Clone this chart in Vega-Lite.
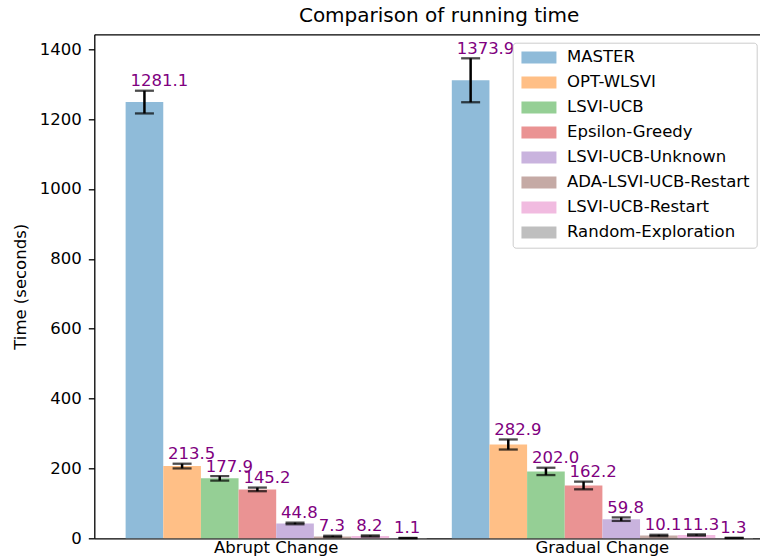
{
  "$schema": "https://vega.github.io/schema/vega-lite/v6.json",
  "width": 665.7,
  "height": 504,
  "autosize": "none",
  "padding": {"left": 94.3, "top": 34.3, "right": 0, "bottom": 19.7},
  "title": {
    "text": "Comparison of running time",
    "fontSize": 20,
    "fontWeight": "normal",
    "color": "black",
    "anchor": "middle",
    "frame": "group",
    "baseline": "bottom",
    "offset": 9,
    "dx": 12,
    "dy": 21
  },
  "data": {
    "values": [
      {"group": "Abrupt Change", "method": "MASTER", "mean": 1248.6, "lo": 1216.1, "hi": 1281.1},
      {"group": "Abrupt Change", "method": "OPT-WLSVI", "mean": 206.8, "lo": 200.1, "hi": 213.5},
      {"group": "Abrupt Change", "method": "LSVI-UCB", "mean": 171.6, "lo": 165.3, "hi": 177.9},
      {"group": "Abrupt Change", "method": "Epsilon-Greedy", "mean": 140.0, "lo": 134.8, "hi": 145.2},
      {"group": "Abrupt Change", "method": "LSVI-UCB-Unknown", "mean": 42.5, "lo": 40.2, "hi": 44.8},
      {"group": "Abrupt Change", "method": "ADA-LSVI-UCB-Restart", "mean": 5.5, "lo": 3.7, "hi": 7.3},
      {"group": "Abrupt Change", "method": "LSVI-UCB-Restart", "mean": 6.5, "lo": 4.8, "hi": 8.2},
      {"group": "Abrupt Change", "method": "Random-Exploration", "mean": 0.8, "lo": 0.5, "hi": 1.1},
      {"group": "Gradual Change", "method": "MASTER", "mean": 1311.0, "lo": 1248.1, "hi": 1373.9},
      {"group": "Gradual Change", "method": "OPT-WLSVI", "mean": 268.5, "lo": 254.1, "hi": 282.9},
      {"group": "Gradual Change", "method": "LSVI-UCB", "mean": 191.5, "lo": 181.0, "hi": 202.0},
      {"group": "Gradual Change", "method": "Epsilon-Greedy", "mean": 151.2, "lo": 140.2, "hi": 162.2},
      {"group": "Gradual Change", "method": "LSVI-UCB-Unknown", "mean": 54.8, "lo": 49.8, "hi": 59.8},
      {"group": "Gradual Change", "method": "ADA-LSVI-UCB-Restart", "mean": 8.0, "lo": 5.9, "hi": 10.1},
      {"group": "Gradual Change", "method": "LSVI-UCB-Restart", "mean": 9.5, "lo": 7.7, "hi": 11.3},
      {"group": "Gradual Change", "method": "Random-Exploration", "mean": 1.0, "lo": 0.7, "hi": 1.3}
    ]
  },
  "encoding": {
    "x": {
      "field": "group",
      "type": "nominal",
      "scale": {"range": [0, 690], "paddingInner": 0.0767, "paddingOuter": 0.096}
    },
    "xOffset": {
      "field": "method",
      "type": "nominal",
      "sort": ["MASTER", "OPT-WLSVI", "LSVI-UCB", "Epsilon-Greedy", "LSVI-UCB-Unknown", "ADA-LSVI-UCB-Restart", "LSVI-UCB-Restart", "Random-Exploration"],
      "scale": {"paddingInner": 0, "paddingOuter": 0}
    }
  },
  "layer": [
    {
      "mark": {"type": "bar"},
      "encoding": {
        "x": {
          "field": "group",
          "type": "nominal",
          "scale": {"range": [0, 690], "paddingInner": 0.0767, "paddingOuter": 0.096},
          "axis": {"orient": "bottom", "title": null, "labelAngle": 0, "ticks": false, "labelPadding": 1, "labelFontSize": 16.5, "labelColor": "black", "domainColor": "black", "domainWidth": 1.3}
        },
        "y": {
          "field": "mean",
          "type": "quantitative",
          "scale": {"domain": [0, 1442.6], "nice": false},
          "axis": {
            "title": "Time (seconds)",
            "values": [0, 200, 400, 600, 800, 1000, 1200, 1400],
            "format": "d",
            "grid": false,
            "titleFontSize": 16.5,
            "titleFontWeight": "normal",
            "titleColor": "black",
            "titlePadding": 10.5,
            "labelFontSize": 16.5,
            "labelColor": "black",
            "labelPadding": 7,
            "tickSize": 6,
            "tickColor": "black",
            "tickWidth": 1.3,
            "domainColor": "black",
            "domainWidth": 1.3
          }
        },
        "color": {
          "field": "method",
          "type": "nominal",
          "sort": ["MASTER", "OPT-WLSVI", "LSVI-UCB", "Epsilon-Greedy", "LSVI-UCB-Unknown", "ADA-LSVI-UCB-Restart", "LSVI-UCB-Restart", "Random-Exploration"],
          "scale": {
            "domain": ["MASTER", "OPT-WLSVI", "LSVI-UCB", "Epsilon-Greedy", "LSVI-UCB-Unknown", "ADA-LSVI-UCB-Restart", "LSVI-UCB-Restart", "Random-Exploration"],
            "range": ["#8fbbd9", "#ffbf86", "#95cf95", "#ea9393", "#c9b3de", "#c5aaa5", "#f1bbe0", "#bfbfbf"]
          },
          "legend": {
            "orient": "none",
            "legendX": 418.4,
            "legendY": 8.4,
            "title": null,
            "symbolType": "M-1,-1H4.833V1H-1Z",
            "symbolSize": 144,
            "symbolStrokeWidth": 0,
            "labelFontSize": 16.5,
            "labelColor": "black",
            "labelLimit": 400,
            "labelOffset": 31.3,
            "rowPadding": 8.0,
            "padding": 6.5,
            "strokeColor": "#cccccc",
            "fillColor": "white",
            "cornerRadius": 3
          }
        }
      }
    },
    {
      "mark": {"type": "rule", "color": "black", "strokeWidth": 2.5},
      "encoding": {
        "x": {"field": "group", "type": "nominal", "axis": null},
        "y": {"field": "lo", "type": "quantitative"},
        "y2": {"field": "hi"}
      }
    },
    {
      "mark": {"type": "tick", "color": "black", "thickness": 2.3, "size": 19, "orient": "horizontal"},
      "encoding": {
        "x": {"field": "group", "type": "nominal", "axis": null},
        "y": {"field": "lo", "type": "quantitative"}
      }
    },
    {
      "mark": {"type": "tick", "color": "black", "thickness": 2.3, "size": 19, "orient": "horizontal"},
      "encoding": {
        "x": {"field": "group", "type": "nominal", "axis": null},
        "y": {"field": "hi", "type": "quantitative"}
      }
    },
    {
      "mark": {"type": "text", "color": "#800080", "fontSize": 16.5, "align": "left", "baseline": "alphabetic", "dx": -14, "dy": -4.5},
      "encoding": {
        "x": {
          "field": "group",
          "type": "nominal",
          "axis": {"orient": "top", "title": null, "labels": false, "ticks": false, "domainColor": "black", "domainWidth": 1.3}
        },
        "y": {"field": "hi", "type": "quantitative"},
        "text": {"field": "hi", "type": "quantitative", "format": ".1f"}
      }
    }
  ],
  "resolve": {"axis": {"x": "independent"}},
  "config": {
    "font": "DejaVu Sans",
    "view": {"stroke": null},
    "axis": {"grid": false}
  }
}
